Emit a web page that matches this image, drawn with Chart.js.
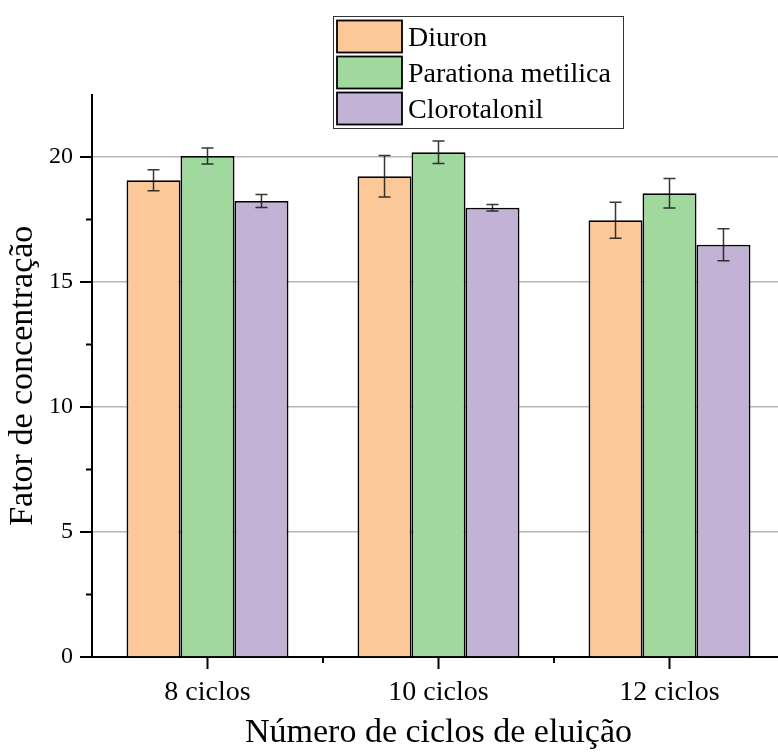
<!DOCTYPE html>
<html lang="pt">
<head>
    <meta charset="UTF-8">
    <title>Fator de concentração</title>
    <script src="https://cdn.jsdelivr.net/npm/chart.js@4.4.1/dist/chart.umd.min.js"></script>
    <style>
        html, body { margin: 0; padding: 0; background: #fff; overflow: hidden; }
        #wrap { width: 790px; height: 756px; }
    </style>
</head>
<body>
    <div id="wrap"><canvas id="chart" width="790" height="756"></canvas></div>

    <script>
        // Dados
        const categorias = ['8 ciclos', '10 ciclos', '12 ciclos'];
        const diuron = [19.07, 19.23, 17.47];
        const diuronErro = [0.42, 0.83, 0.72];
        const parationa = [20.04, 20.19, 18.55];
        const parationaErro = [0.32, 0.45, 0.59];
        const clorotalonil = [18.24, 17.97, 16.49];
        const clorotalonilErro = [0.26, 0.13, 0.64];
        const yTicksPrincipais = [0, 5, 10, 15, 20];

        const fonte = '"Liberation Serif", "Times New Roman", serif';

        // Barras de erro
        const barrasErro = {
            id: 'barrasErro',
            afterDatasetsDraw(chart) {
                const ctx = chart.ctx;
                const y = chart.scales.y;
                ctx.save();
                ctx.strokeStyle = 'rgba(20,20,20,0.85)';
                ctx.lineWidth = 1.5;
                chart.data.datasets.forEach((ds, i) => {
                    const meta = chart.getDatasetMeta(i);
                    meta.data.forEach((bar, j) => {
                        const v = ds.data[j], e = ds.erro[j];
                        const y1 = y.getPixelForValue(v + e);
                        const y2 = y.getPixelForValue(v - e);
                        ctx.beginPath();
                        ctx.moveTo(bar.x, y1); ctx.lineTo(bar.x, y2);
                        ctx.moveTo(bar.x - 6, y1); ctx.lineTo(bar.x + 6, y1);
                        ctx.moveTo(bar.x - 6, y2); ctx.lineTo(bar.x + 6, y2);
                        ctx.stroke();
                    });
                });
                ctx.restore();
            }
        };

        // Marcas dos eixos (principais e secundarias)
        const marcas = {
            id: 'marcas',
            afterDraw(chart) {
                const ctx = chart.ctx;
                const xs = chart.scales.x, ys = chart.scales.y;
                const area = chart.chartArea;
                ctx.save();
                ctx.strokeStyle = '#000';
                ctx.lineWidth = 2;
                ctx.beginPath();
                ys.ticks.forEach(t => {
                    if (t.value >= ys.max) return;
                    const p = ys.getPixelForValue(t.value);
                    const len = yTicksPrincipais.includes(t.value) ? 12 : 6;
                    ctx.moveTo(area.left - len, p); ctx.lineTo(area.left, p);
                });
                categorias.forEach((c, i) => {
                    const p = xs.getPixelForValue(i);
                    ctx.moveTo(p, area.bottom); ctx.lineTo(p, area.bottom + 12);
                    if (i > 0) {
                        const m = (p + xs.getPixelForValue(i - 1)) / 2;
                        ctx.moveTo(m, area.bottom); ctx.lineTo(m, area.bottom + 6);
                    }
                });
                ctx.stroke();
                ctx.restore();
            }
        };

        // Legenda com moldura
        const legenda = {
            id: 'legenda',
            afterDraw(chart) {
                const ctx = chart.ctx;
                ctx.save();
                ctx.strokeStyle = '#333';
                ctx.lineWidth = 1;
                ctx.strokeRect(333.5, 16.5, 290, 112);
                ctx.font = '28px ' + fonte;
                ctx.textBaseline = 'alphabetic';
                chart.data.datasets.forEach((ds, i) => {
                    const top = 20.5 + i * 36;
                    ctx.fillStyle = ds.backgroundColor;
                    ctx.fillRect(337, top, 65, 32);
                    ctx.strokeStyle = '#000';
                    ctx.lineWidth = 1.8;
                    ctx.strokeRect(337, top, 65, 32);
                    ctx.fillStyle = '#000';
                    ctx.fillText(ds.label, 408, 46 + i * 36);
                });
                ctx.restore();
            }
        };

        new Chart(document.getElementById('chart'), {
            type: 'bar',
            data: {
                labels: categorias,
                datasets: [
                    { label: 'Diuron', data: diuron, erro: diuronErro, backgroundColor: 'rgb(252,200,151)' },
                    { label: 'Parationa metilica', data: parationa, erro: parationaErro, backgroundColor: 'rgb(160,216,158)' },
                    { label: 'Clorotalonil', data: clorotalonil, erro: clorotalonilErro, backgroundColor: 'rgb(194,178,214)' }
                ]
            },
            options: {
                responsive: false,
                animation: false,
                layout: { padding: { top: 94.5, right: 5, left: 0, bottom: 0 } },
                datasets: {
                    bar: {
                        borderColor: '#000',
                        borderWidth: 1.8,
                        borderSkipped: 'start',
                        categoryPercentage: 0.701,
                        barPercentage: 1
                    }
                },
                plugins: {
                    legend: { display: false },
                    tooltip: { enabled: false }
                },
                scales: {
                    x: {
                        grid: { display: false, drawTicks: false },
                        border: { color: '#000', width: 2 },
                        ticks: { color: '#000', padding: 19, font: { family: fonte, size: 28 } },
                        title: {
                            display: true, text: 'Número de ciclos de eluição', color: '#000',
                            font: { family: fonte, size: 34 }, padding: { top: 0, bottom: 3 }
                        },
                        afterFit(s) { s.height = 99; }
                    },
                    y: {
                        min: 0, max: 22.5,
                        grid: {
                            drawTicks: false,
                            lineWidth: 1.5,
                            color: c => (yTicksPrincipais.includes(c.tick.value) && c.tick.value > 0) ? 'rgba(175,175,175,0.9)' : 'rgba(0,0,0,0)'
                        },
                        border: { color: '#000', width: 2 },
                        ticks: {
                            stepSize: 2.5, color: '#000', padding: 19,
                            font: { family: fonte, size: 24 },
                            callback: v => yTicksPrincipais.includes(v) ? v : ''
                        },
                        title: {
                            display: true, text: 'Fator de concentração', color: '#000',
                            font: { family: fonte, size: 34 }, padding: { top: 3, bottom: 0 }
                        },
                        afterFit(s) { s.width = 92; }
                    }
                }
            },
            plugins: [barrasErro, marcas, legenda]
        });
    </script>
</body>
</html>
